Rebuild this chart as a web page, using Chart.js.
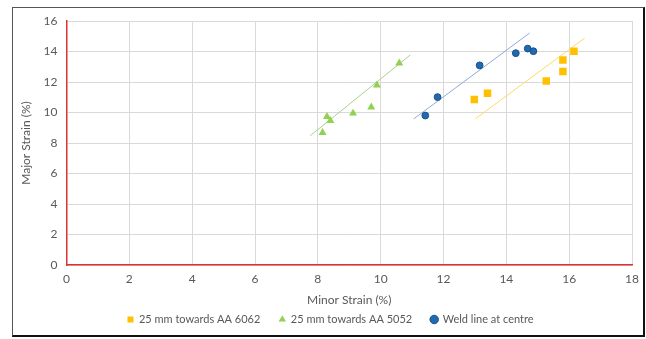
<!DOCTYPE html>
<html>
<head>
<meta charset="utf-8">
<script src="https://cdn.jsdelivr.net/npm/chart.js@4"></script>
<style>
  html, body { margin: 0; padding: 0; background: #fff; }
  #wrap { position: relative; width: 646px; height: 339px; }
  #frame {
    position: absolute; left: 12px; top: 7px; width: 630px; height: 327px;
    border-left: 1px solid #555; border-top: 1px solid #555;
    border-right: 2px solid #111; border-bottom: 2px solid #111;
    pointer-events: none;
  }
</style>
</head>
<body>
<div id="wrap">
  <canvas id="grafico" width="646" height="339"></canvas>
  <div id="frame"></div>
</div>
<script>
// Series (minor strain %, major strain %)
const aa6062X = [12.98, 13.40, 15.27, 15.80, 15.80, 16.15];
const aa6062Y = [10.86, 11.26, 12.07, 12.69, 13.44, 14.02];

const aa5052X = [8.15, 8.29, 8.40, 9.12, 9.70, 9.88, 10.59];
const aa5052Y = [8.68, 9.73, 9.47, 9.95, 10.35, 11.79, 13.24];

const weldX = [11.42, 11.81, 13.15, 14.30, 14.68, 14.86];
const weldY = [9.80, 11.01, 13.09, 13.89, 14.19, 14.02];

// Linear trendlines, end points
const trend6062X = [13.01, 16.49];
const trend6062Y = [9.58, 14.88];
const trend5052X = [7.76, 10.94];
const trend5052Y = [8.48, 13.77];
const trendWeldX = [11.05, 14.74];
const trendWeldY = [9.58, 15.21];

const seriesLabels = ["25 mm towards AA 6062", "25 mm towards AA 5052", "Weld line at centre"];
const xTitle = "Minor Strain (%)";
const yTitle = "Major Strain (%)";

const pontos = (xs, ys) => xs.map((x, i) => ({ x: x, y: ys[i] }));

const cinza = "#595959";
const fonte = "Lato, 'Noto Sans', sans-serif";

// legenda um pouco à direita, como no original
const deslocaLegenda = {
  id: "deslocaLegenda",
  afterLayout(chart) {
    chart.legend.left += 7;
    chart.legend.right += 7;
  },
};

new Chart(document.getElementById("grafico"), {
  type: "scatter",
  data: {
    datasets: [
      {
        label: seriesLabels[0],
        data: pontos(aa6062X, aa6062Y),
        pointStyle: "rect",
        pointRadius: 5.3,
        backgroundColor: "#ffc000",
        borderColor: "#ffc000",
        borderWidth: 0,
      },
      {
        label: seriesLabels[1],
        data: pontos(aa5052X, aa5052Y),
        pointStyle: "triangle",
        pointRadius: 4.6,
        backgroundColor: "#92d050",
        borderColor: "#92d050",
        borderWidth: 0,
      },
      {
        label: seriesLabels[2],
        data: pontos(weldX, weldY),
        pointStyle: "circle",
        pointRadius: 3.4,
        backgroundColor: "#1f6ab3",
        borderColor: "#1a4f82",
        borderWidth: 1,
      },
      {
        label: "",
        data: pontos(trend6062X, trend6062Y),
        showLine: true,
        pointRadius: 0,
        borderColor: "#ffd966",
        borderWidth: 1,
      },
      {
        label: "",
        data: pontos(trend5052X, trend5052Y),
        showLine: true,
        pointRadius: 0,
        borderColor: "#a9d18e",
        borderWidth: 1,
      },
      {
        label: "",
        data: pontos(trendWeldX, trendWeldY),
        showLine: true,
        pointRadius: 0,
        borderColor: "#8eaadb",
        borderWidth: 1,
      },
    ],
  },
  plugins: [deslocaLegenda],
  options: {
    responsive: false,
    animation: false,
    layout: { padding: { left: 14, right: 13, top: 21, bottom: 4 } },
    plugins: {
      tooltip: { enabled: false },
      legend: {
        position: "bottom",
        labels: {
          usePointStyle: true,
          boxWidth: 6,
          boxHeight: 6,
          padding: 19,
          color: cinza,
          font: { family: fonte, size: 11 },
          filter: (item) => item.text !== "",
        },
      },
    },
    scales: {
      x: {
        type: "linear",
        min: 0,
        max: 18,
        ticks: { stepSize: 2, padding: 7, color: cinza, font: { family: fonte, size: 12 } },
        grid: { color: "#d9d9d9", drawTicks: false },
        border: { display: true, color: "#e03030", width: 1.5 },
        title: {
          display: true,
          text: xTitle,
          color: cinza,
          font: { family: fonte, size: 12 },
          padding: { top: 0, bottom: -12 },
        },
        afterFit: (s) => { s.height = 30; },
      },
      y: {
        min: 0,
        max: 16,
        ticks: { stepSize: 2, padding: 9, color: cinza, font: { family: fonte, size: 12 } },
        grid: { color: "#d9d9d9", drawTicks: false },
        border: { display: true, color: "#e03030", width: 1.5 },
        title: {
          display: true,
          text: yTitle,
          color: cinza,
          font: { family: fonte, size: 12 },
          padding: { top: 5, bottom: 0 },
        },
        afterFit: (s) => { s.width = 52.5; },
      },
    },
  },
});
</script>
</body>
</html>
